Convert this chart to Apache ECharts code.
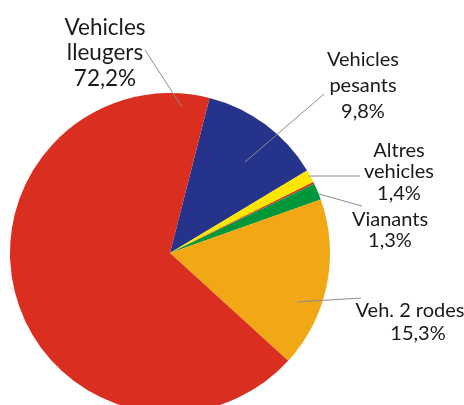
<!DOCTYPE html>
<html>
<head>
<meta charset="utf-8">
<script src="https://cdn.jsdelivr.net/npm/echarts@6/dist/echarts.min.js"></script>
<style>
  html, body { margin: 0; padding: 0; background: #fff; }
  #chart { width: 464px; height: 405px; }
</style>
</head>
<body>
<div id="chart"></div>
<script>
// slices in clockwise order, starting from the blue one at the top
const categories = ['Vehicles\npesants', 'Altres\nvehicles', '', 'Vianants', 'Veh. 2 rodes', 'Vehicles\nlleugers']
// share printed on each label
const printedPct = ['9,8%', '1,4%', '', '1,3%', '15,3%', '72,2%']
// wedge size as drawn in the picture (%)
const drawnShare = [12.4, 1.3, 0.2, 1.7, 17.2, 67.2]

const colors = ['#25338b', '#ffe600', '#da2f20', '#00963a', '#f2a814', '#da2f20']

// label block centre, text size, pct line nudge and leader line, per slice
const labelSpots = [
  { x: 363, y: 86, size: 20, lh: 26, nudge: 0, line: [[324, 94], [245, 162]] },
  { x: 399, y: 172, size: 20, lh: 21.7, nudge: 0, line: [[360, 176], [309, 176]] },
  null,
  { x: 390, y: 230, size: 20, lh: 21.7, nudge: 0, line: [[362, 206], [319, 194]] },
  { x: 410, y: 322, size: 20, lh: 23.3, nudge: 16, line: [[361, 298], [297, 302]] },
  { x: 105, y: 53, size: 22.5, lh: 25.5, nudge: 0, line: [[145, 50], [182, 107]] }
]

const chart = echarts.init(document.getElementById('chart'))

chart.setOption({
  animation: false,
  graphic: labelSpots.filter(s => s).map(s => ({
    type: 'polyline',
    z: 100,
    silent: true,
    shape: { points: s.line },
    style: { stroke: '#8c8c8c', lineWidth: 1, fill: null }
  })),
  series: [{
    type: 'pie',
    center: [170, 253],
    radius: 160,
    startAngle: 75.7,
    clockwise: true,
    silent: true,
    label: {
      show: true,
      position: 'inside',
      rotate: 0,
      color: '#1a1a1a',
      fontFamily: 'Lato',
      fontSize: 20,
      align: 'center',
      formatter: p => categories[p.dataIndex] + '\n{p|' + printedPct[p.dataIndex] + '}'
    },
    labelLine: { show: false },
    labelLayout: p => {
      const s = labelSpots[p.dataIndex]
      if (!s) return {}
      return { x: s.x, y: s.y, align: 'center', verticalAlign: 'middle' }
    },
    data: drawnShare.map((v, i) => {
      const s = labelSpots[i]
      return {
        value: v,
        name: categories[i] || 'sep',
        itemStyle: { color: colors[i] },
        label: s
          ? {
              show: true,
              fontSize: s.size,
              lineHeight: s.lh,
              rich: {
                p: {
                  fontFamily: 'Lato',
                  fontSize: s.size,
                  lineHeight: s.lh,
                  color: '#1a1a1a',
                  padding: [0, 0, 0, s.nudge]
                }
              }
            }
          : { show: false }
      }
    })
  }]
})
</script>
</body>
</html>
